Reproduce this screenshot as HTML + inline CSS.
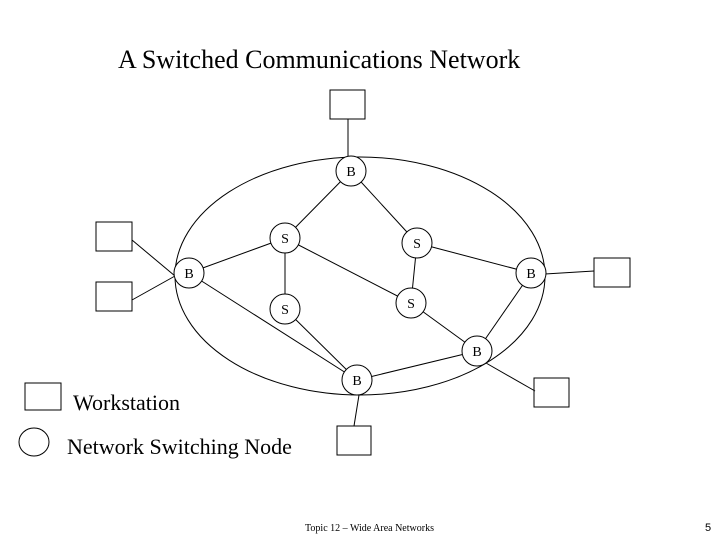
<!DOCTYPE html>
<html><head><meta charset="utf-8"><style>
html,body{margin:0;padding:0;background:#fff;width:720px;height:540px;overflow:hidden}
svg{display:block}
</style></head><body>
<svg width="720" height="540" viewBox="0 0 720 540" xmlns="http://www.w3.org/2000/svg" font-family="'Liberation Serif',serif">
<text x="118" y="68" font-size="26">A Switched Communications Network</text>
<g fill="none" stroke="#000" stroke-width="1">
<ellipse cx="360" cy="276" rx="185" ry="119"/>
<rect x="330" y="90" width="35" height="29"/>
<rect x="96" y="222" width="36" height="29"/>
<rect x="96" y="282" width="36" height="29"/>
<rect x="594" y="258" width="36" height="29"/>
<rect x="534" y="378" width="35" height="29"/>
<rect x="337" y="426" width="34" height="29"/>
<rect x="25" y="383" width="36" height="27"/>
<ellipse cx="34" cy="442" rx="15" ry="14"/>
<line x1="348" y1="119" x2="348" y2="157"/>
<line x1="132" y1="240" x2="175" y2="276"/>
<line x1="132" y1="300" x2="175" y2="276"/>
<line x1="545" y1="274" x2="594" y2="271"/>
<line x1="486" y1="363" x2="535" y2="391"/>
<line x1="359" y1="395" x2="354" y2="426"/>
<line x1="351" y1="171" x2="285" y2="238"/>
<line x1="351" y1="171" x2="417" y2="243"/>
<line x1="285" y1="238" x2="189" y2="273"/>
<line x1="285" y1="238" x2="285" y2="309"/>
<line x1="285" y1="238" x2="411" y2="303"/>
<line x1="417" y1="243" x2="531" y2="273"/>
<line x1="417" y1="243" x2="411" y2="303"/>
<line x1="189" y1="273" x2="357" y2="380"/>
<line x1="285" y1="309" x2="357" y2="380"/>
<line x1="411" y1="303" x2="477" y2="351"/>
<line x1="531" y1="273" x2="477" y2="351"/>
<line x1="477" y1="351" x2="357" y2="380"/>
</g>
<g fill="#fff" stroke="#000" stroke-width="1">
<circle cx="351" cy="171" r="15"/>
<circle cx="285" cy="238" r="15"/>
<circle cx="417" cy="243" r="15"/>
<circle cx="189" cy="273" r="15"/>
<circle cx="531" cy="273" r="15"/>
<circle cx="285" cy="309" r="15"/>
<circle cx="411" cy="303" r="15"/>
<circle cx="477" cy="351" r="15"/>
<circle cx="357" cy="380" r="15"/>
</g>
<g font-size="14" text-anchor="middle">
<text x="351" y="176">B</text>
<text x="285" y="243">S</text>
<text x="417" y="248">S</text>
<text x="189" y="278">B</text>
<text x="531" y="278">B</text>
<text x="285" y="314">S</text>
<text x="411" y="308">S</text>
<text x="477" y="356">B</text>
<text x="357" y="385">B</text>
</g>
<text x="73" y="410" font-size="22">Workstation</text>
<text x="67" y="454" font-size="22">Network Switching Node</text>
<text x="305" y="531" font-size="10">Topic 12 – Wide Area Networks</text>
<text x="705" y="531" font-size="11" font-family="'Liberation Sans',sans-serif">5</text>
</svg>
</body></html>
